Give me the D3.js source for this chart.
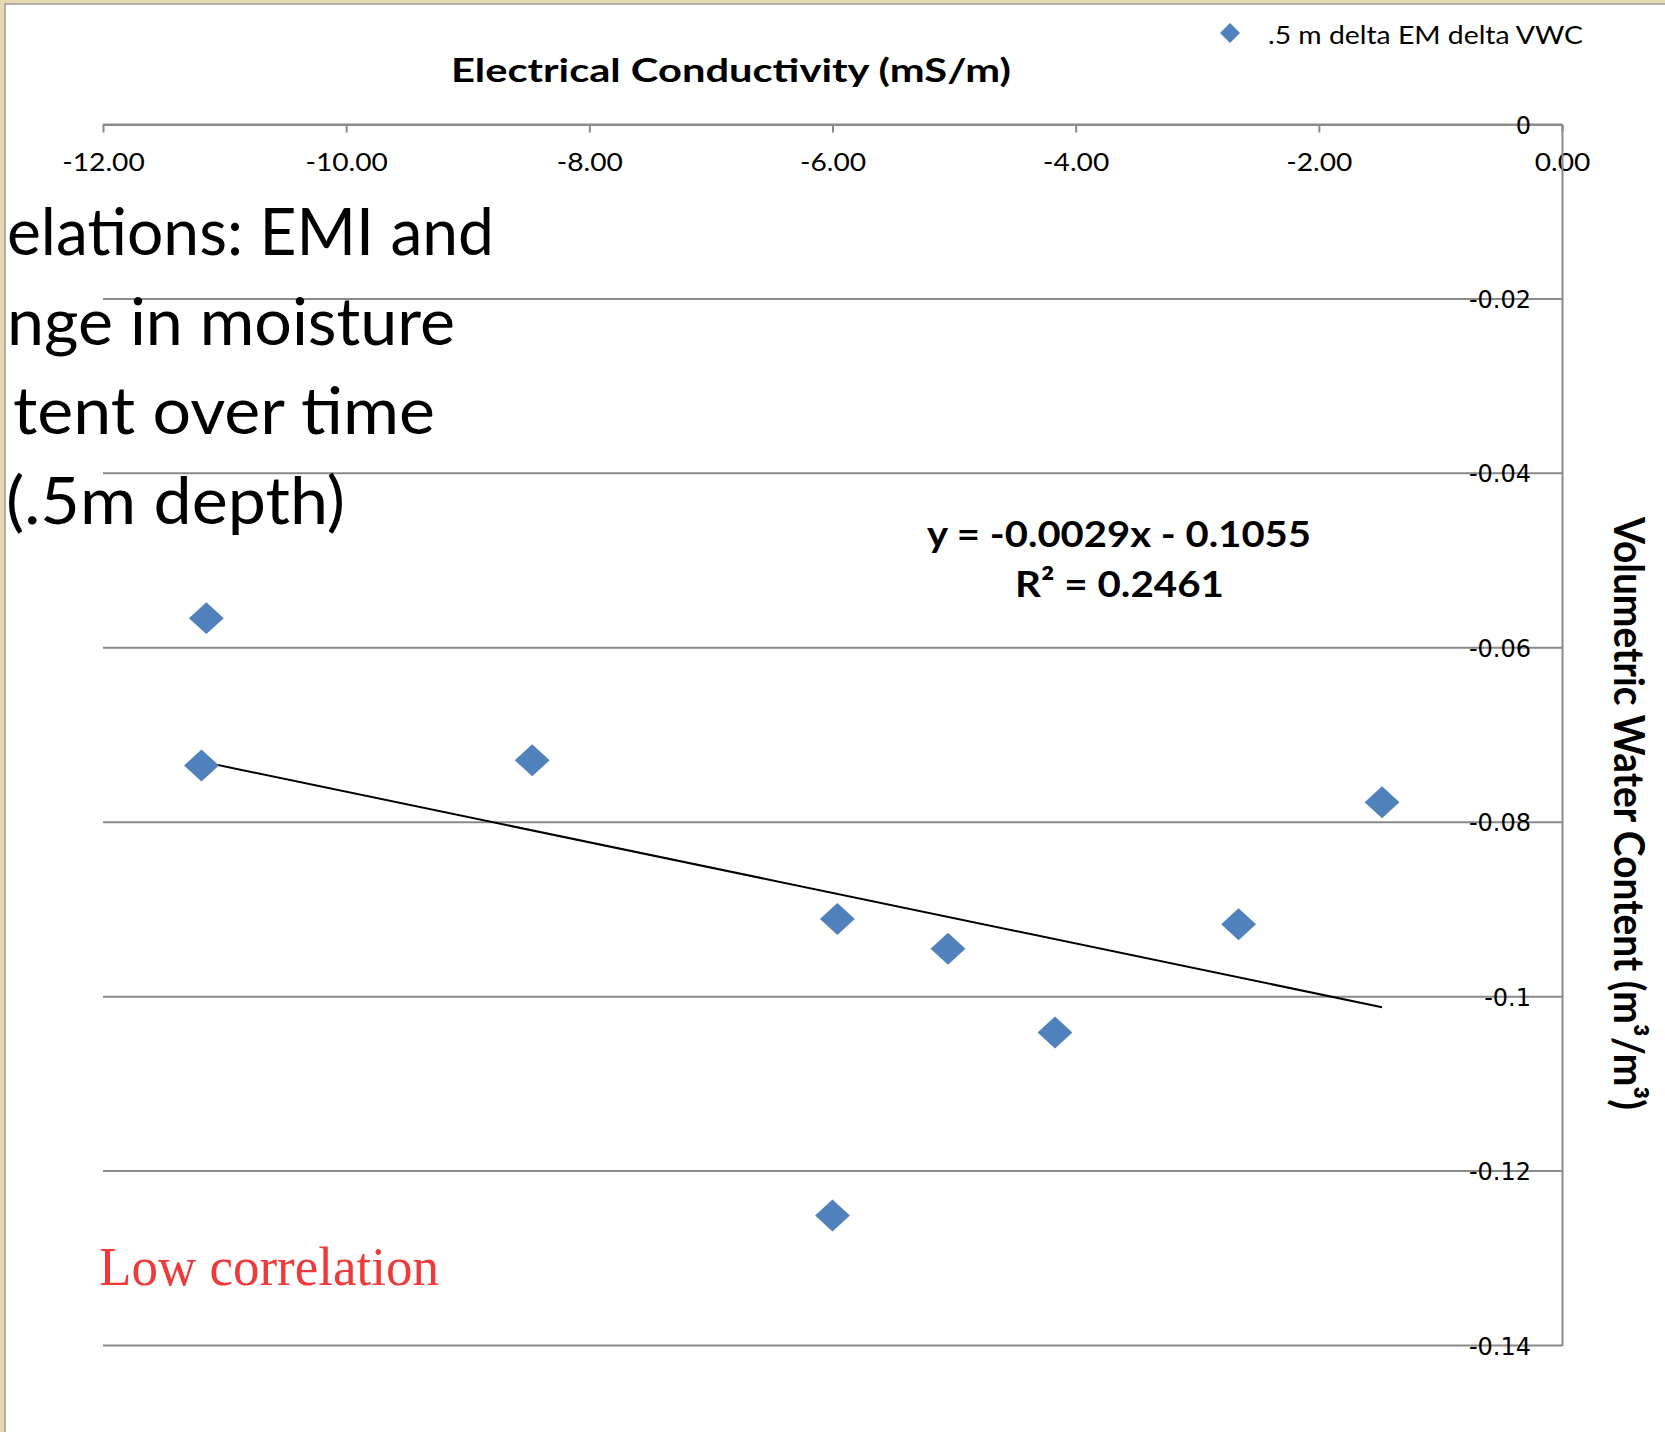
<!DOCTYPE html>
<html>
<head>
<meta charset="utf-8">
<script src="https://cdn.jsdelivr.net/npm/d3@7"></script>
<style>
  html, body { margin: 0; padding: 0; background: #fff; }
  svg { display: block; }
</style>
</head>
<body>
<svg id="chart" width="1665" height="1432"></svg>
<script>
// Change in electrical conductivity (mS/m) vs change in volumetric water content (m³/m³), 0.5 m depth
const deltaEC  = [-11.15, -11.19, -8.47, -1.48, -5.96, -5.05, -2.66, -4.17, -6.00];
const deltaVWC = [-0.0566, -0.0735, -0.0729, -0.0777, -0.0911, -0.0945, -0.0917, -0.1041, -0.1251];

const xTicks = [-12, -10, -8, -6, -4, -2, 0];
const yTicks = [0, -0.02, -0.04, -0.06, -0.08, -0.1, -0.12, -0.14];
const yTickLabels = ["0", "-0.02", "-0.04", "-0.06", "-0.08", "-0.1", "-0.12", "-0.14"];

// Linear trendline as reported on the chart
const trendSlope = -0.0029;
const trendIntercept = -0.1055;
const trendR2 = 0.2461;

const seriesName = ".5 m delta EM delta VWC";
const xTitle = "Electrical Conductivity (mS/m)";
const yTitle = "Volumetric Water Content  (m³/m³)";
const note = "Low correlation";
const slideLines = ["elations: EMI and", "nge in moisture", "tent over time", "(.5m depth)"];

const W = 1665, H = 1432;
const svg = d3.select("#chart");
const GRID = "#8a8a8a";
const BLUE = "#4f81bd";
const SANS = "Lato, 'Open Sans', sans-serif";

const fmt = d3.formatLocale({decimal: ".", thousands: ",", grouping: [3], currency: ["", ""], minus: "-"});

const x = d3.scaleLinear().domain([-12, 0]).range([103, 1562]);
const y = d3.scaleLinear().domain([0, -0.14]).range([124.5, 1345.5]);

// Page frame
svg.append("rect").attr("width", W).attr("height", H).attr("fill", "#e6dbb0");
svg.append("rect").attr("x", 5).attr("y", 4).attr("width", W).attr("height", H)
  .attr("fill", "#fff").attr("stroke", "#9a9a9a").attr("stroke-width", 1.5);

// Horizontal gridlines
svg.append("g").selectAll("line").data(yTicks).join("line")
  .attr("x1", x(-12)).attr("x2", x(0))
  .attr("y1", d => y(d)).attr("y2", d => y(d))
  .attr("stroke", GRID).attr("stroke-width", 2);

// X axis along the top (value 0 of VWC)
const gx = svg.append("g").attr("transform", `translate(0,${y(0)})`)
  .call(d3.axisBottom(x).tickValues(xTicks).tickFormat(fmt.format(".2f"))
    .tickSize(8).tickSizeOuter(0));
gx.select(".domain").attr("stroke", GRID).attr("stroke-width", 2);
gx.selectAll(".tick line").attr("stroke", GRID).attr("stroke-width", 2);
gx.selectAll(".tick text")
  .attr("y", 47).attr("dy", null)
  .attr("fill", "#000")
  .style("font-family", SANS).style("font-size", "24.5px")
  .attr("transform", "scale(1.15,1)");

// Y axis on the right (value 0 of EC)
const gy = svg.append("g").attr("transform", `translate(${x(0)},0)`)
  .call(d3.axisLeft(y).tickValues(yTicks).tickFormat((d, i) => yTickLabels[i])
    .tickSize(0).tickPadding(31));
gy.select(".domain").attr("stroke", GRID).attr("stroke-width", 2);
gy.selectAll(".tick text")
  .attr("fill", "#000").attr("dy", "0.36em")
  .style("font-family", "'DejaVu Sans', sans-serif").style("font-size", "24px");

// Slide heading text running over the chart
const slideX = [[7, 494], [7, 455], [13, 435], [6, 345]];
svg.append("g")
  .selectAll("text").data(slideLines).join("text")
  .attr("x", (d, i) => slideX[i][0])
  .attr("y", (d, i) => 255 + i * 89.5)
  .attr("textLength", (d, i) => slideX[i][1] - slideX[i][0])
  .attr("lengthAdjust", "spacingAndGlyphs")
  .style("font-family", SANS).style("font-size", "66px")
  .attr("fill", "#000")
  .text(d => d);

// Trendline over the data range
const xr = d3.extent(deltaEC);
svg.append("path")
  .datum(xr.map(v => [v, trendSlope * v + trendIntercept]))
  .attr("d", d3.line().x(d => x(d[0])).y(d => y(d[1])))
  .attr("fill", "none").attr("stroke", "#000").attr("stroke-width", 2);

// Diamond markers
const diamond = d3.symbol(d3.symbolSquare, 22.6 * 22.6)();
svg.append("g").selectAll("path").data(deltaEC.map((v, i) => [v, deltaVWC[i]])).join("path")
  .attr("d", diamond)
  .attr("transform", d => `translate(${x(d[0])},${y(d[1])}) scale(1.09,1) rotate(45)`)
  .attr("fill", BLUE);

// Axis titles
svg.append("text")
  .attr("x", 451).attr("y", 82)
  .attr("textLength", 560).attr("lengthAdjust", "spacingAndGlyphs")
  .style("font-family", SANS).style("font-size", "32.5px").style("font-weight", 700)
  .text(xTitle);

svg.append("text")
  .attr("transform", "translate(1614,517) rotate(90)")
  .attr("textLength", 593).attr("lengthAdjust", "spacingAndGlyphs")
  .style("font-family", SANS).style("font-size", "42px").style("font-weight", 700)
  .text(yTitle);

// Legend
svg.append("path")
  .attr("d", d3.symbol(d3.symbolSquare, 14.1 * 14.1)())
  .attr("transform", "translate(1230,33) rotate(45)")
  .attr("fill", BLUE);
svg.append("text")
  .attr("x", 1268).attr("y", 43.5)
  .attr("textLength", 315).attr("lengthAdjust", "spacingAndGlyphs")
  .style("font-family", SANS).style("font-size", "25.5px")
  .text(seriesName);

// Trendline equation and R²
const eq = `y = ${fmt.format(".4f")(trendSlope)}x - ${fmt.format(".4f")(-trendIntercept)}`;
svg.append("text")
  .attr("x", 927).attr("y", 547)
  .attr("textLength", 384).attr("lengthAdjust", "spacingAndGlyphs")
  .style("font-family", SANS).style("font-size", "37px").style("font-weight", 700)
  .text(eq);
svg.append("text")
  .attr("x", 1015).attr("y", 597)
  .attr("textLength", 209).attr("lengthAdjust", "spacingAndGlyphs")
  .style("font-family", SANS).style("font-size", "37px").style("font-weight", 700)
  .text(`R² = ${fmt.format(".4f")(trendR2)}`);

// Note
svg.append("text")
  .attr("x", 99).attr("y", 1285)
  .attr("textLength", 340).attr("lengthAdjust", "spacingAndGlyphs")
  .style("font-family", "'Liberation Serif', 'DejaVu Serif', serif").style("font-size", "54px")
  .attr("fill", "#ee3a3a")
  .text(note);
</script>
</body>
</html>
